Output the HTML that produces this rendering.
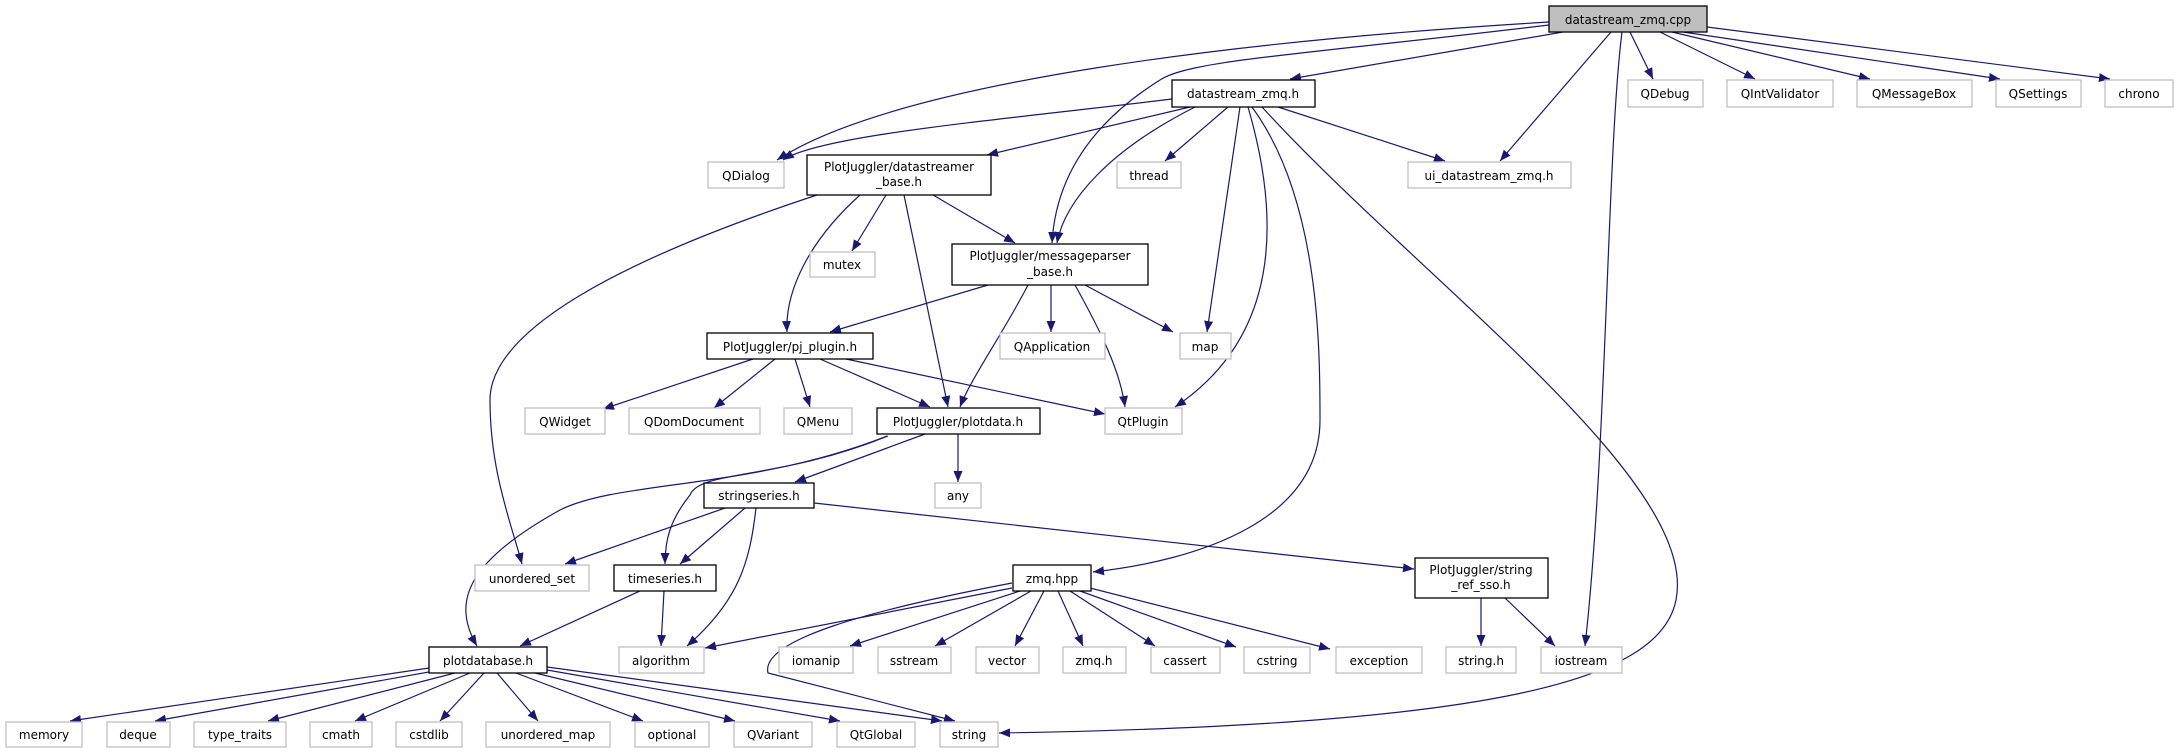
<!DOCTYPE html>
<html><head><meta charset="utf-8"><style>
html,body{margin:0;padding:0;background:#fff;}
svg{display:block;}
text{font-family:"DejaVu Sans","Liberation Sans",sans-serif;font-size:12px;fill:#000;text-anchor:middle;}
.g{fill:#fff;stroke:#bfbfbf;stroke-width:1.3;}
.b{fill:#fff;stroke:#000;stroke-width:1.3;}
.e{fill:none;stroke:#191970;stroke-width:1.2;marker-end:url(#a);}
</style></head><body>
<svg width="2177" height="753" viewBox="0 0 2177 753" xmlns="http://www.w3.org/2000/svg">
<defs><marker id="a" markerWidth="12" markerHeight="10" refX="11" refY="4.5" orient="auto" markerUnits="userSpaceOnUse"><path d="M0,0 L11,4.5 L0,9 z" fill="#191970"/></marker></defs>
<g>
<path class="e" d="M1549,22 C1250,40 900,80 777,160"/>
<path class="e" d="M1172,99 C1000,120 820,135 783,160"/>
<path class="e" d="M1190,107 L987,155"/>
<path class="e" d="M1549,25 C1300,55 1190,60 1160,80 C1080,130 1055,190 1052,243"/>
<path class="e" d="M1195,107 C1110,150 1065,200 1057,243"/>
<path class="e" d="M1228,107 L1165,161"/>
<path class="e" d="M1240,107 L1207,332"/>
<path class="e" d="M1248,107 C1275,200 1290,330 1175,407"/>
<path class="e" d="M1252,107 C1320,200 1320,350 1320,420 C1320,520 1200,560 1093,572"/>
<path class="e" d="M1278,107 L1445,161"/>
<path class="e" d="M1262,107 C1420,280 1700,480 1676,600 C1660,680 1500,725 999,733"/>
<path class="e" d="M1622,32 C1607,150 1607,450 1585,646"/>
<path class="e" d="M1611,32 L1500,161"/>
<path class="e" d="M1563,32 L1290,79"/>
<path class="e" d="M1630,32 L1653,79"/>
<path class="e" d="M1660,32 L1755,79"/>
<path class="e" d="M1672,32 L1870,79"/>
<path class="e" d="M1683,32 L2000,79"/>
<path class="e" d="M1707,27 L2110,79"/>
<path class="e" d="M817,195 C620,260 490,330 490,400 C490,470 510,520 522,564"/>
<path class="e" d="M860,195 C810,240 785,290 787,332"/>
<path class="e" d="M886,195 L852,251"/>
<path class="e" d="M904,195 L948,407"/>
<path class="e" d="M933,195 L1015,243"/>
<path class="e" d="M988,285 L830,332"/>
<path class="e" d="M1028,285 C1005,330 970,380 960,407"/>
<path class="e" d="M1051,285 L1051,332"/>
<path class="e" d="M1085,285 L1173,332"/>
<path class="e" d="M1075,285 C1100,330 1120,370 1125,407"/>
<path class="e" d="M753,359 L603,409"/>
<path class="e" d="M775,359 L714,408"/>
<path class="e" d="M795,359 L810,407"/>
<path class="e" d="M820,359 L930,407"/>
<path class="e" d="M846,359 L1105,414"/>
<path class="e" d="M887,436 C750,490 620,480 560,510 C470,560 450,600 477,646"/>
<path class="e" d="M888,436 C780,480 700,470 690,495 C670,520 665,540 665,564"/>
<path class="e" d="M925,434 L795,482"/>
<path class="e" d="M958,434 L958,482"/>
<path class="e" d="M725,508 L565,564"/>
<path class="e" d="M745,508 L680,564"/>
<path class="e" d="M756,508 C750,560 740,600 687,646"/>
<path class="e" d="M814,503 L1414,569"/>
<path class="e" d="M640,591 L520,646"/>
<path class="e" d="M664,591 L661,646"/>
<path class="e" d="M1012,588 L705,648"/>
<path class="e" d="M1020,591 L850,646"/>
<path class="e" d="M1031,591 L935,646"/>
<path class="e" d="M1044,591 L1015,646"/>
<path class="e" d="M1058,591 L1083,646"/>
<path class="e" d="M1070,591 L1155,646"/>
<path class="e" d="M1080,591 L1236,647"/>
<path class="e" d="M1090,588 L1330,649"/>
<path class="e" d="M1012,583 C870,610 760,640 768,673 L955,721"/>
<path class="e" d="M1481,598 L1481,646"/>
<path class="e" d="M1505,598 L1555,646"/>
<path class="e" d="M429,668 L70,721"/>
<path class="e" d="M440,670 L155,721"/>
<path class="e" d="M455,673 L268,721"/>
<path class="e" d="M470,673 L355,721"/>
<path class="e" d="M484,673 L440,721"/>
<path class="e" d="M497,673 L538,721"/>
<path class="e" d="M516,673 L643,721"/>
<path class="e" d="M535,673 L735,721"/>
<path class="e" d="M547,670 L840,721"/>
<path class="e" d="M547,667 L942,721"/>
</g>
<g>
<rect x="1549" y="6" width="158" height="26" fill="#bfbfbf" stroke="#000" stroke-width="1.3"/><text x="1628" y="24">datastream_zmq.cpp</text>
<rect class="b" x="1172" y="80" width="143" height="27"/><text x="1243" y="98">datastream_zmq.h</text>
<rect class="g" x="1628" y="80" width="75" height="27"/><text x="1665" y="98">QDebug</text>
<rect class="g" x="1727" y="80" width="106" height="27"/><text x="1780" y="98">QIntValidator</text>
<rect class="g" x="1857" y="80" width="115" height="27"/><text x="1914" y="98">QMessageBox</text>
<rect class="g" x="1996" y="80" width="85" height="27"/><text x="2038" y="98">QSettings</text>
<rect class="g" x="2105" y="80" width="68" height="27"/><text x="2139" y="98">chrono</text>
<rect class="g" x="708" y="162" width="76" height="26"/><text x="746" y="180">QDialog</text>
<rect class="b" x="807" y="155" width="184" height="40"/><text x="899" y="171">PlotJuggler/datastreamer</text><text x="899" y="186">_base.h</text>
<rect class="g" x="1117" y="162" width="64" height="26"/><text x="1149" y="180">thread</text>
<rect class="g" x="1408" y="162" width="163" height="26"/><text x="1489" y="180">ui_datastream_zmq.h</text>
<rect class="g" x="810" y="252" width="65" height="25"/><text x="842" y="269">mutex</text>
<rect class="b" x="952" y="244" width="196" height="41"/><text x="1050" y="260">PlotJuggler/messageparser</text><text x="1050" y="276">_base.h</text>
<rect class="b" x="707" y="333" width="166" height="26"/><text x="790" y="351">PlotJuggler/pj_plugin.h</text>
<rect class="g" x="1000" y="333" width="105" height="26"/><text x="1052" y="351">QApplication</text>
<rect class="g" x="1180" y="333" width="51" height="26"/><text x="1205" y="351">map</text>
<rect class="g" x="525" y="408" width="80" height="26"/><text x="565" y="426">QWidget</text>
<rect class="g" x="629" y="408" width="131" height="26"/><text x="694" y="426">QDomDocument</text>
<rect class="g" x="784" y="408" width="68" height="26"/><text x="818" y="426">QMenu</text>
<rect class="b" x="877" y="408" width="163" height="26"/><text x="958" y="426">PlotJuggler/plotdata.h</text>
<rect class="g" x="1105" y="408" width="77" height="26"/><text x="1143" y="426">QtPlugin</text>
<rect class="b" x="704" y="483" width="110" height="25"/><text x="759" y="500">stringseries.h</text>
<rect class="g" x="935" y="483" width="46" height="25"/><text x="958" y="500">any</text>
<rect class="g" x="475" y="565" width="114" height="26"/><text x="532" y="583">unordered_set</text>
<rect class="b" x="614" y="565" width="102" height="26"/><text x="665" y="583">timeseries.h</text>
<rect class="b" x="1013" y="565" width="78" height="26"/><text x="1052" y="583">zmq.hpp</text>
<rect class="b" x="1415" y="558" width="133" height="40"/><text x="1481" y="574">PlotJuggler/string</text><text x="1481" y="589">_ref_sso.h</text>
<rect class="b" x="429" y="647" width="118" height="26"/><text x="488" y="665">plotdatabase.h</text>
<rect class="g" x="619" y="647" width="85" height="26"/><text x="661" y="665">algorithm</text>
<rect class="g" x="779" y="647" width="74" height="26"/><text x="816" y="665">iomanip</text>
<rect class="g" x="878" y="647" width="73" height="26"/><text x="914" y="665">sstream</text>
<rect class="g" x="976" y="647" width="63" height="26"/><text x="1007" y="665">vector</text>
<rect class="g" x="1063" y="647" width="63" height="26"/><text x="1094" y="665">zmq.h</text>
<rect class="g" x="1151" y="647" width="69" height="26"/><text x="1185" y="665">cassert</text>
<rect class="g" x="1244" y="647" width="66" height="26"/><text x="1277" y="665">cstring</text>
<rect class="g" x="1336" y="647" width="86" height="26"/><text x="1379" y="665">exception</text>
<rect class="g" x="1446" y="647" width="70" height="26"/><text x="1481" y="665">string.h</text>
<rect class="g" x="1541" y="647" width="81" height="26"/><text x="1581" y="665">iostream</text>
<rect class="g" x="6" y="722" width="76" height="25"/><text x="44" y="739">memory</text>
<rect class="g" x="107" y="722" width="63" height="25"/><text x="138" y="739">deque</text>
<rect class="g" x="194" y="722" width="92" height="25"/><text x="240" y="739">type_traits</text>
<rect class="g" x="310" y="722" width="62" height="25"/><text x="341" y="739">cmath</text>
<rect class="g" x="396" y="722" width="66" height="25"/><text x="429" y="739">cstdlib</text>
<rect class="g" x="486" y="722" width="124" height="25"/><text x="548" y="739">unordered_map</text>
<rect class="g" x="635" y="722" width="74" height="25"/><text x="672" y="739">optional</text>
<rect class="g" x="734" y="722" width="78" height="25"/><text x="773" y="739">QVariant</text>
<rect class="g" x="837" y="722" width="78" height="25"/><text x="876" y="739">QtGlobal</text>
<rect class="g" x="940" y="722" width="58" height="25"/><text x="969" y="739">string</text>
</g>
</svg>
</body></html>
